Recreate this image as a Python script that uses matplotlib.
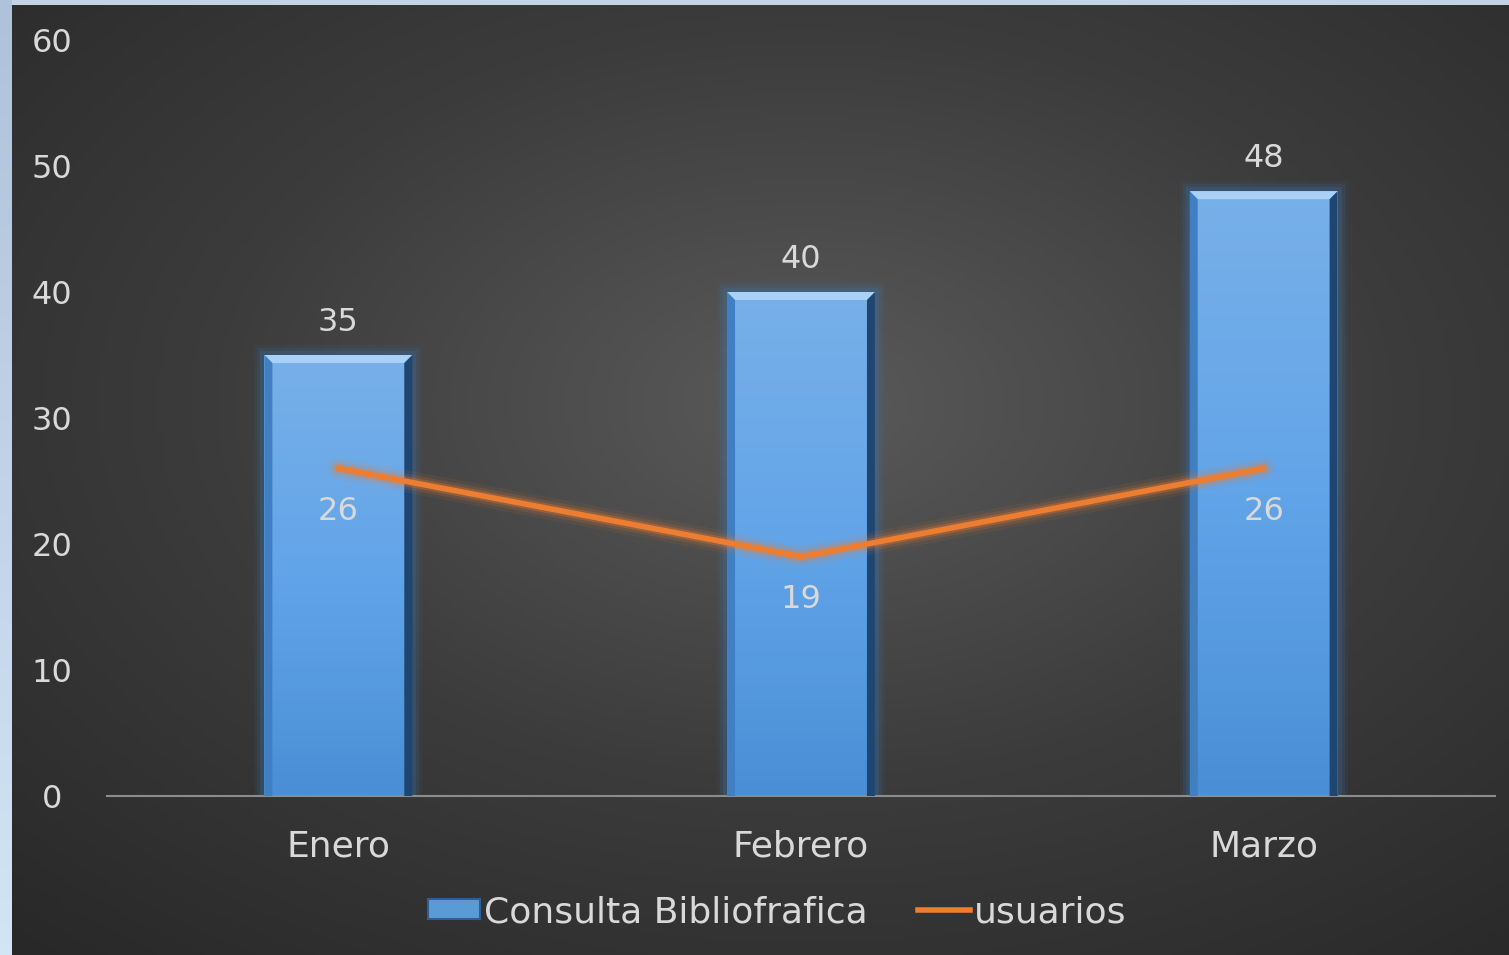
import matplotlib
matplotlib.use("Agg")
import matplotlib.pyplot as plt
import matplotlib.patches as mpatches
import matplotlib.lines as mlines
import numpy as np

categories = ["Enero", "Febrero", "Marzo"]
consulta = [35, 40, 48]
usuarios = [26, 19, 26]
y_ticks = [0, 10, 20, 30, 40, 50, 60]

TEXT = "#d9d9d9"
ORANGE = "#ed7d31"

W, H = 1509, 955
fig = plt.figure(figsize=(W / 100, H / 100), dpi=100)
fig.patch.set_facecolor("#c3d3e6")

# left light-blue strip
sax = fig.add_axes([0, 0, 12 / W, 1])
sax.imshow(np.linspace(0, 1, 100).reshape(-1, 1), cmap=matplotlib.colors.LinearSegmentedColormap.from_list(
    "s", ["#d3e4f4", "#aec2da"]), aspect="auto", origin="lower", extent=(0, 1, 0, 1))
sax.axis("off")

# dark radial background
bax = fig.add_axes([12 / W, 0, 1 - 12 / W, 1 - 5 / H])
gx, gy = np.meshgrid(np.linspace(0, 1, 400), np.linspace(0, 1, 260))
r = np.sqrt(((gx - 0.53) / 0.85) ** 2 + ((gy - 0.58) / 0.85) ** 2)
bg = np.clip(1 - r, 0, 1)
bcmap = matplotlib.colors.LinearSegmentedColormap.from_list("b", ["#282828", "#3c3c3c", "#5a5a5a"])
bax.imshow(bg, cmap=bcmap, aspect="auto", origin="lower", extent=(0, 1, 0, 1))
bax.axis("off")

ax = fig.add_axes([107 / W, 1 - 796 / H, (1495 - 107) / W, (796 - 40) / H])
ax.set_facecolor("none")
ax.set_xlim(-0.5, 2.5)
ax.set_ylim(0, 60)

x = np.arange(len(categories))
bw = 148 / 463
px = 1 / 463.0          # one pixel in x data units
py = 60 / 756.0         # one pixel in y data units
bev = 8

bar_cmap = matplotlib.colors.LinearSegmentedColormap.from_list("bar", ["#4a8fd6", "#62a4e8", "#78b0e8"])
for xi, h in zip(x, consulta):
    x0, x1 = xi - bw / 2, xi + bw / 2
    # glow
    for k, a in [(10, 0.08), (7, 0.12), (4, 0.2)]:
        ax.add_patch(mpatches.Rectangle((x0 - k * px, 0), bw + 2 * k * px, h + k * py,
                                        color="#3b78b8", alpha=a, lw=0, zorder=1))
    grad = np.linspace(0, 1, 100).reshape(-1, 1)
    ax.imshow(grad, cmap=bar_cmap, aspect="auto", origin="lower",
              extent=(x0, x1, 0, h), zorder=2)
    dx, dy = bev * px, bev * py
    ax.add_patch(mpatches.Polygon([(x0, h), (x1, h), (x1 - dx, h - dy), (x0 + dx, h - dy)],
                                  color="#a9d1f7", lw=0, zorder=3))
    ax.add_patch(mpatches.Polygon([(x0, 0), (x0, h), (x0 + dx, h - dy), (x0 + dx, 0)],
                                  color="#3f7fc2", lw=0, zorder=3))
    ax.add_patch(mpatches.Polygon([(x1, 0), (x1, h), (x1 - dx, h - dy), (x1 - dx, 0)],
                                  color="#1f4670", lw=0, zorder=3))
    ax.text(xi, h + 33 * py, str(h), ha="center", va="center", color=TEXT, fontsize=23)

# line with glow
for lw, a in [(16, 0.08), (11, 0.15), (7, 0.3)]:
    ax.plot(x, usuarios, color=ORANGE, lw=lw, alpha=a, solid_capstyle="round", zorder=4)
ax.plot(x, usuarios, color=ORANGE, lw=4, solid_capstyle="round", zorder=5)
for xi, v in zip(x, usuarios):
    ax.text(xi, v - 43 * py, str(v), ha="center", va="center", color=TEXT, fontsize=23, zorder=6)

ax.set_xticks(x)
ax.set_xticklabels(categories, fontsize=26)
ax.set_yticks(y_ticks)
ax.set_yticklabels([str(v) for v in y_ticks], fontsize=23)
ax.tick_params(axis="both", length=0, colors=TEXT)
ax.tick_params(axis="x", pad=24)
ax.tick_params(axis="y", pad=39.5)
for t in ax.get_yticklabels():
    t.set_horizontalalignment("center")
for s in ["top", "right", "left"]:
    ax.spines[s].set_visible(False)
ax.spines["bottom"].set_color("#8c8c8c")
ax.spines["bottom"].set_linewidth(1.5)

bar_handle = mpatches.Patch(facecolor="#5b9bd5", edgecolor="#2e5f92", lw=1.5, label="Consulta Bibliofrafica")
line_handle = mlines.Line2D([], [], color=ORANGE, lw=4, label="usuarios")
fig.legend(handles=[bar_handle, line_handle], loc="center", bbox_to_anchor=(777 / W, 1 - 912 / H),
           ncol=2, frameon=False, fontsize=26, labelcolor=TEXT, handlelength=1.45,
           handleheight=0.5, handletextpad=0.1, columnspacing=1.4)

fig.savefig("out.png", dpi=100, facecolor=fig.get_facecolor())
